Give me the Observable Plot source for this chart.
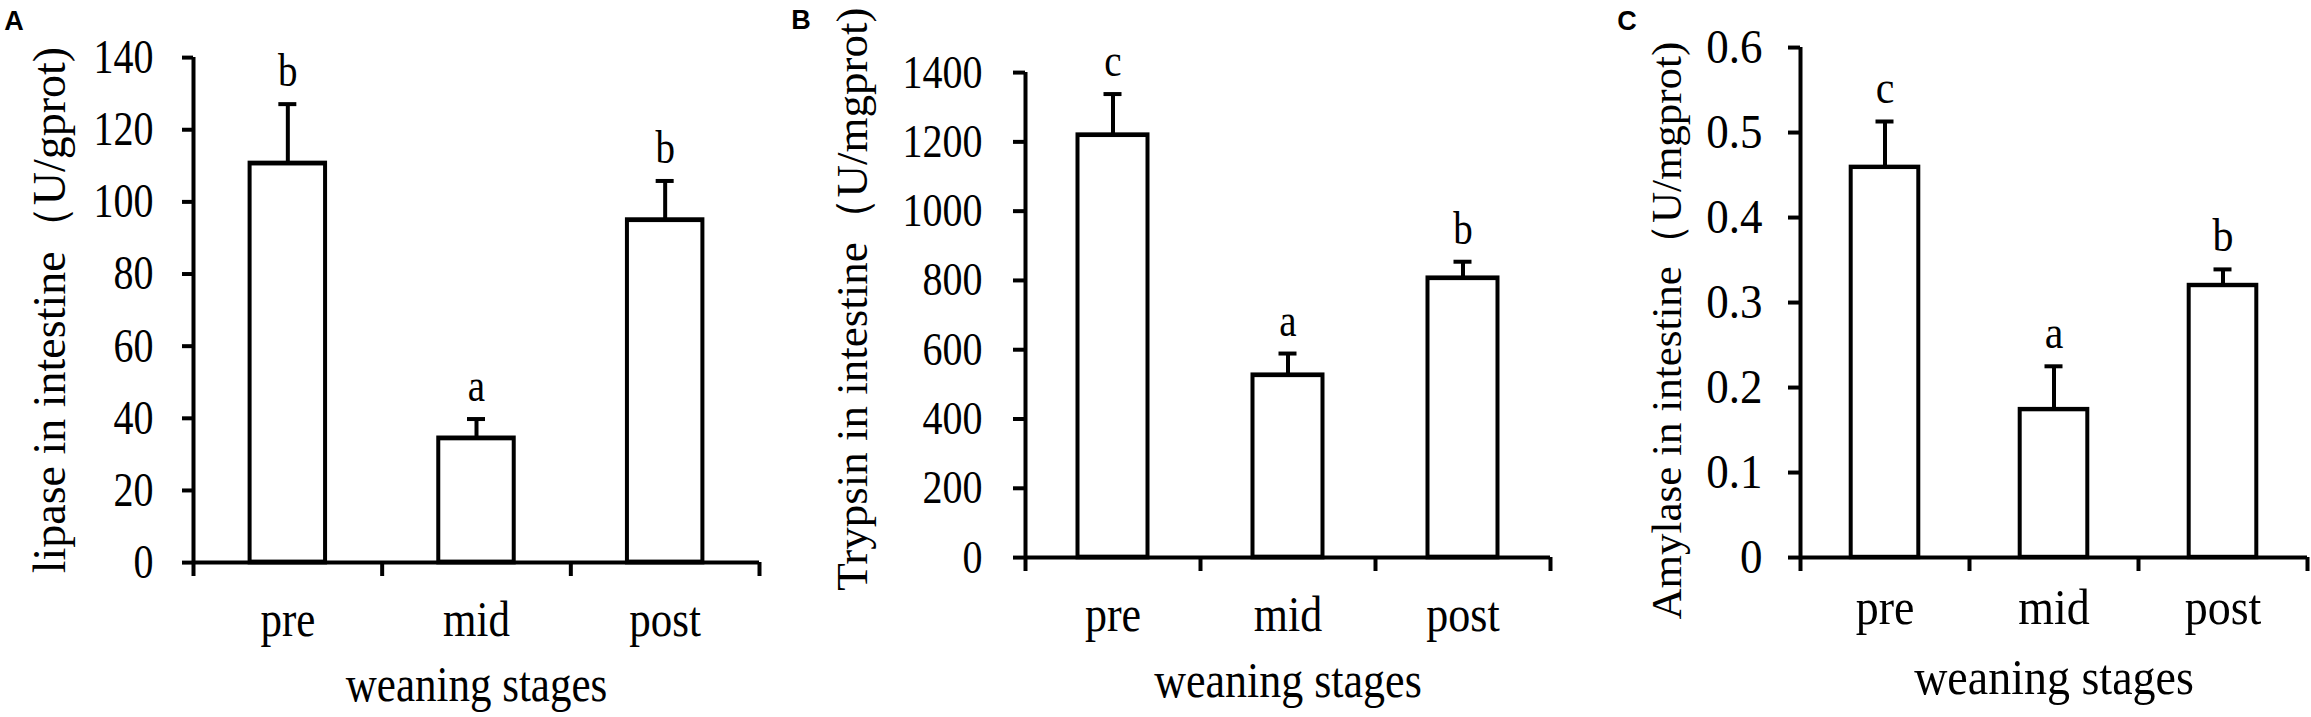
<!DOCTYPE html>
<html>
<head>
<meta charset="utf-8">
<script src="https://cdn.jsdelivr.net/npm/d3@7"></script>
<script src="https://cdn.jsdelivr.net/npm/@observablehq/plot@0.6"></script>
<style>
  html, body { margin: 0; padding: 0; background: white; }
  #root { position: relative; width: 2311px; height: 717px; background: white; overflow: hidden; }
  .panel { position: absolute; top: 0; height: 717px; }
  .panel svg { transform-origin: 0 0; }
  .tag { position: absolute; width: 40px; text-align: center; font-family: 'Liberation Sans', Arial, sans-serif; font-weight: bold; font-size: 27px; line-height: 27px; color: black; }
</style>
</head>
<body>
<div id="root"></div>
<script>
// ---- data ----
const stages = ["pre", "mid", "post"];
const xTitle = "weaning stages";

const lipase = [110.6, 34.4, 94.9];
const lipaseErr = [16.5, 5.4, 10.9];
const lipaseLetters = ["b", "a", "b"];
const lipaseTicks = [0, 20, 40, 60, 80, 100, 120, 140];
const lipaseLabel = "lipase in intestine（U/gprot)";

const trypsin = [1219, 526, 806];
const trypsinErr = [119, 63, 48];
const trypsinLetters = ["c", "a", "b"];
const trypsinTicks = [0, 200, 400, 600, 800, 1000, 1200, 1400];
const trypsinLabel = "Trypsin in intestine（U/mgprot)";

const amylase = [0.459, 0.174, 0.320];
const amylaseErr = [0.054, 0.051, 0.019];
const amylaseLetters = ["c", "a", "b"];
const amylaseTicks = [0, 0.1, 0.2, 0.3, 0.4, 0.5, 0.6];
const amylaseLabel = "Amylase in intestine（U/mgprot)";

const serif = "'Liberation Serif', 'Times New Roman', serif";
const H = 717;

function panel(o) {
  const s = o.stretch; // the source figure's glyphs are stretched vertically
  const data = stages.map((st, i) => ({
    stage: st, i, value: o.values[i], top: o.values[i] + o.errs[i], letter: o.letters[i]
  }));
  const bandPx = (o.width - o.ml - o.mr) / 3;
  const inset = 0.3 * bandPx;
  const sw = 4;
  const hsw = sw / s;
  const chart = Plot.plot({
    width: o.width,
    height: H / s,
    marginLeft: o.ml, marginRight: o.mr, marginTop: o.mt / s, marginBottom: o.mb / s,
    x: {domain: [0, 3], axis: null},
    y: {domain: [0, o.yMax], axis: null},
    style: {fontFamily: serif, background: "white", color: "black", overflow: "visible"},
    marks: [
      Plot.rectY(data, {x1: "i", x2: d => d.i + 1, y: "value", fill: "white", stroke: "black", strokeWidth: sw, insetLeft: inset, insetRight: inset}),
      Plot.ruleX(data, {x: d => d.i + 0.5, y1: "value", y2: "top", stroke: "black", strokeWidth: sw}),
      Plot.ruleY(data, {y: "top", x1: d => d.i + 0.5, x2: d => d.i + 0.5, insetLeft: -9, insetRight: -9, stroke: "black", strokeWidth: hsw}),
      Plot.ruleY([0], {stroke: "black", strokeWidth: hsw}),
      Plot.ruleX([0], {stroke: "black", strokeWidth: sw}),
      Plot.axisY({ticks: o.yTicks, tickFormat: d => String(d), tickSize: o.tickSize, tickPadding: o.tickPad, fontSize: o.tickFs, strokeWidth: hsw, stroke: "black", fill: "black", label: null}),
      Plot.axisX({ticks: [0, 1, 2, 3], tickSize: 14 / s, tickFormat: () => "", strokeWidth: sw, stroke: "black", label: null}),
      Plot.text(data, {x: d => d.i + 0.5, frameAnchor: "bottom", text: "stage", dy: o.xDy / s, lineAnchor: "bottom", textAnchor: "middle", fontSize: o.xFs, fill: "black"}),
      Plot.text([xTitle], {frameAnchor: "bottom", dy: o.titleDy / s, lineAnchor: "bottom", textAnchor: "middle", fontSize: o.titleFs, fill: "black"}),
      Plot.text([o.yLabel], {frameAnchor: "left", rotate: -90, dx: o.yLabelDx, dy: o.yLabelDy / s, textAnchor: "middle", lineAnchor: "middle", fontSize: o.yLabelFs, fill: "black"}),
      Plot.text(data, {x: d => d.i + 0.5, y: "top", text: "letter", dy: -18 / s, lineAnchor: "bottom", textAnchor: "middle", fontSize: o.letterFs, fill: "black"})
    ]
  });
  // the rotated axis title is not stretched in the source: undo the stretch along its length
  chart.querySelectorAll("text").forEach(t => {
    const tr = t.getAttribute("transform");
    if (tr && tr.includes("rotate")) t.setAttribute("transform", tr + ` scale(${1 / s},1)`);
  });
  chart.style.transform = `scaleY(${s})`;
  const div = document.createElement("div");
  div.className = "panel";
  div.style.left = o.left + "px";
  div.style.width = o.width + "px";
  div.appendChild(chart);
  const root = document.getElementById("root");
  root.appendChild(div);
  const tag = document.createElement("div");
  tag.className = "tag";
  tag.textContent = o.tag;
  tag.style.left = (o.tagX - 20) + "px";
  tag.style.top = (o.tagY - 13) + "px";
  root.appendChild(tag);
}

panel({
  values: lipase, errs: lipaseErr, letters: lipaseLetters, yMax: 140, yTicks: lipaseTicks, yLabel: lipaseLabel,
  left: 0, width: 770, ml: 193, mr: 11, mt: 57, mb: 155, stretch: 1.2,
  tickFs: 40, tickSize: 11, tickPad: 29,
  yLabelFs: 46, yLabelDx: -143, yLabelDy: 0,
  xFs: 43, xDy: 73, titleDy: 138, titleFs: 43, letterFs: 39,
  tag: "A", tagX: 14, tagY: 21
});

panel({
  values: trypsin, errs: trypsinErr, letters: trypsinLetters, yMax: 1400, yTicks: trypsinTicks, yLabel: trypsinLabel,
  left: 770, width: 790, ml: 255, mr: 10, mt: 72, mb: 160, stretch: 1.17,
  tickFs: 40, tickSize: 12, tickPad: 31,
  yLabelFs: 45, yLabelDx: -173, yLabelDy: -16,
  xFs: 44, xDy: 73, titleDy: 139, titleFs: 44, letterFs: 39,
  tag: "B", tagX: 801, tagY: 20
});

panel({
  values: amylase, errs: amylaseErr, letters: amylaseLetters, yMax: 0.6, yTicks: amylaseTicks, yLabel: amylaseLabel,
  left: 1570, width: 741, ml: 230, mr: 4, mt: 47, mb: 160, stretch: 1.1,
  tickFs: 45, tickSize: 12, tickPad: 26,
  yLabelFs: 43, yLabelDx: -133, yLabelDy: 28,
  xFs: 46, xDy: 66, titleDy: 136, titleFs: 46, letterFs: 42,
  tag: "C", tagX: 1627, tagY: 21
});
</script>
</body>
</html>
